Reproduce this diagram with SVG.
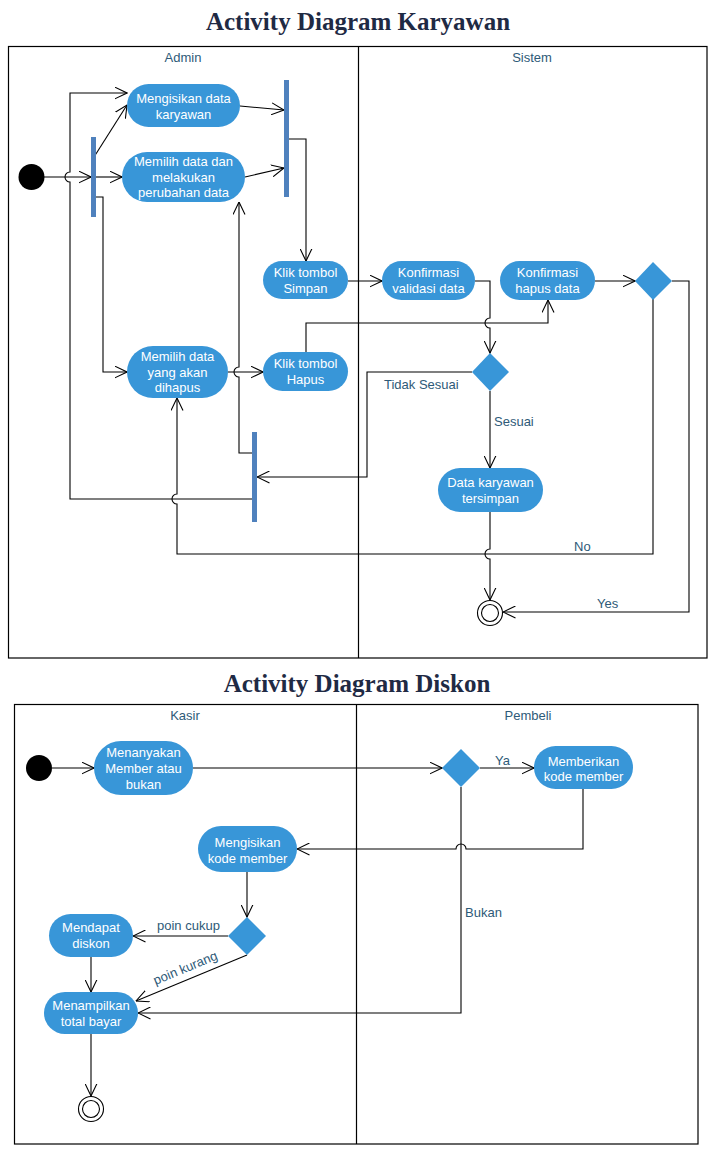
<svg xmlns="http://www.w3.org/2000/svg" width="716" height="1165" viewBox="0 0 716 1165">
<style>
.title{font-family:"Liberation Serif",serif;font-weight:bold;font-size:25px;fill:#1f2a44;text-anchor:middle}
.lane{fill:none;stroke:#000;stroke-width:1.2}
.lh{font-family:"Liberation Sans",Arial,sans-serif;font-size:13px;fill:#2e5a78;text-anchor:middle}
.act rect{fill:#3896d8}
.act text{font-family:"Liberation Sans",Arial,sans-serif;font-size:13px;fill:#fff;text-anchor:middle}
.bar{fill:#4f81bd}
.dec{fill:#3896d8}
.c{fill:none;stroke:#000;stroke-width:1.1}
.ca{fill:none;stroke:#000;stroke-width:1.1;marker-end:url(#arr)}
.lbl{font-family:"Liberation Sans",Arial,sans-serif;font-size:13px;fill:#2e5a78}
</style>
<defs>
<marker id="arr" markerUnits="userSpaceOnUse" viewBox="0 0 13 13" refX="12.5" refY="6.5" markerWidth="13" markerHeight="13" orient="auto">
<path d="M0,0.5 L12.5,6.5 L0,12.5" fill="none" stroke="#000" stroke-width="1.1"/>
</marker>
</defs>
<rect width="716" height="1165" fill="#fff"/>

<!-- Diagram 1 -->
<text class="title" x="358" y="30">Activity Diagram Karyawan</text>
<g id="swimlanes1">
<rect class="lane" x="8.5" y="46.5" width="698.5" height="611.5"/>
<line class="lane" x1="358.5" y1="46.5" x2="358.5" y2="658"/>
<text class="lh" x="183" y="62">Admin</text>
<text class="lh" x="532" y="62">Sistem</text>
</g>

<g id="connectors1">
<path class="ca" d="M44,177 H91"/>
<path class="ca" d="M94,157 L127,105"/>
<path class="ca" d="M96,177 H122"/>
<path class="ca" d="M96,197 H103 V372 H127"/>
<path class="ca" d="M240,106 L284,110"/>
<path class="ca" d="M245,177 L284,168"/>
<path class="ca" d="M289,139 H306 V261"/>
<path class="ca" d="M348,281 H382"/>
<path class="ca" d="M475,281 H490 V318 A5,5 0 0 0 490,328 V353"/>
<path class="ca" d="M306,352 V323 H548 V300"/>
<path class="ca" d="M228,372 H263"/>
<path class="ca" d="M252,453 H239 V377 A5,5 0 0 1 239,367 V202"/>
<path class="ca" d="M252,499 H70 V182 A5,5 0 0 1 70,172 V93 H127"/>
<path class="ca" d="M472,372 H367 V477 H257"/>
<path class="ca" d="M490,391 V468"/>
<path class="ca" d="M490,512 V549 A5,5 0 0 0 490,559 V600"/>
<path class="ca" d="M595,281 H635"/>
<path class="ca" d="M653,299 V554 H177 V504 A5,5 0 0 1 177,494 V398"/>
<path class="ca" d="M672,281 H689 V612 H503"/>
<text class="lbl" x="384" y="389">Tidak Sesuai</text>
<text class="lbl" x="494" y="426">Sesuai</text>
<text class="lbl" x="574" y="551">No</text>
<text class="lbl" x="597" y="608">Yes</text>
</g>

<g id="start1"><circle cx="31.5" cy="177" r="13" fill="#000"/></g>
<g id="fork1"><rect class="bar" x="91" y="137" width="5" height="80"/></g>
<g id="join2"><rect class="bar" x="284" y="80" width="5" height="117"/></g>
<g id="join3"><rect class="bar" x="252" y="432" width="5" height="90"/></g>
<g id="n_mengisikan" class="act"><rect x="127" y="84" width="113" height="43" rx="21.5"/><text x="183.5" y="103">Mengisikan data</text><text x="183.5" y="119">karyawan</text></g>
<g id="n_memilih" class="act"><rect x="122" y="152" width="123" height="50" rx="25"/><text x="183.5" y="166">Memilih data dan</text><text x="183.5" y="182">melakukan</text><text x="183.5" y="197">perubahan data</text></g>
<g id="n_simpan" class="act"><rect x="263" y="261" width="85" height="38" rx="19"/><text x="305.5" y="277">Klik tombol</text><text x="305.5" y="293">Simpan</text></g>
<g id="n_hapus" class="act"><rect x="263" y="352" width="85" height="39" rx="19.5"/><text x="305.5" y="368">Klik tombol</text><text x="305.5" y="384">Hapus</text></g>
<g id="n_memilihhapus" class="act"><rect x="127" y="346" width="101" height="52" rx="26"/><text x="177.5" y="361">Memilih data</text><text x="177.5" y="377">yang akan</text><text x="177.5" y="392">dihapus</text></g>
<g id="n_validasi" class="act"><rect x="382" y="261" width="93" height="39" rx="19.5"/><text x="428.5" y="277">Konfirmasi</text><text x="428.5" y="293">validasi data</text></g>
<g id="n_konfhapus" class="act"><rect x="500" y="261" width="95" height="39" rx="19.5"/><text x="547.5" y="277">Konfirmasi</text><text x="547.5" y="293">hapus data</text></g>
<g id="n_tersimpan" class="act"><rect x="438" y="468" width="105" height="44" rx="22"/><text x="490.5" y="487">Data karyawan</text><text x="490.5" y="503">tersimpan</text></g>
<g id="dec1"><polygon class="dec" points="472,372 490,353 509,372 490,391"/></g>
<g id="dec2"><polygon class="dec" points="635,281 653,262 672,281 653,300"/></g>
<g id="end1"><circle cx="490" cy="613" r="12.5" fill="#fff" stroke="#000" stroke-width="1.1"/><circle cx="490" cy="613" r="8.5" fill="#fff" stroke="#000" stroke-width="1.1"/></g>

<!-- Diagram 2 -->
<text class="title" x="357" y="692">Activity Diagram Diskon</text>
<g id="swimlanes2">
<rect class="lane" x="14.5" y="704.5" width="683.5" height="439.5"/>
<line class="lane" x1="356.5" y1="704.5" x2="356.5" y2="1144"/>
<text class="lh" x="185" y="720">Kasir</text>
<text class="lh" x="528" y="720">Pembeli</text>
</g>

<g id="connectors2">
<path class="ca" d="M52,768 H94"/>
<path class="ca" d="M193,768 H442"/>
<path class="ca" d="M480,768 H534"/>
<path class="ca" d="M583,789 V849 H466 A5,5 0 0 0 456,849 H297"/>
<path class="ca" d="M247,872 V917"/>
<path class="ca" d="M228,936 H133"/>
<path class="ca" d="M247,955 L136,1001"/>
<path class="ca" d="M91,957 V992"/>
<path class="ca" d="M461,787 V1013 H138"/>
<path class="ca" d="M91,1034 V1096"/>
<text class="lbl" x="495" y="765">Ya</text>
<text class="lbl" x="157" y="930">poin cukup</text>
<text class="lbl" x="465" y="917">Bukan</text>
<text class="lbl" x="187" y="972" text-anchor="middle" transform="rotate(-22.5 187 972)">poin kurang</text>
</g>

<g id="start2"><circle cx="39" cy="768" r="13" fill="#000"/></g>
<g id="n_menanyakan" class="act"><rect x="94" y="741" width="99" height="54" rx="27"/><text x="143.5" y="757">Menanyakan</text><text x="143.5" y="773">Member atau</text><text x="143.5" y="789">bukan</text></g>
<g id="n_memberikan" class="act"><rect x="534" y="746" width="99" height="43" rx="21.5"/><text x="583.5" y="766">Memberikan</text><text x="583.5" y="781">kode member</text></g>
<g id="n_mengisikankode" class="act"><rect x="198" y="826" width="99" height="46" rx="23"/><text x="247.5" y="847">Mengisikan</text><text x="247.5" y="863">kode member</text></g>
<g id="n_mendapat" class="act"><rect x="49" y="914" width="84" height="43" rx="21.5"/><text x="91" y="932">Mendapat</text><text x="91" y="948">diskon</text></g>
<g id="n_menampilkan" class="act"><rect x="44" y="992" width="94" height="42" rx="21"/><text x="91" y="1010">Menampilkan</text><text x="91" y="1026">total bayar</text></g>
<g id="dec3"><polygon class="dec" points="442,768 461,749 480,768 461,787"/></g>
<g id="dec4"><polygon class="dec" points="228,936 247,917 266,936 247,955"/></g>
<g id="end2"><circle cx="91" cy="1109" r="12.5" fill="#fff" stroke="#000" stroke-width="1.1"/><circle cx="91" cy="1109" r="8.5" fill="#fff" stroke="#000" stroke-width="1.1"/></g>
</svg>
